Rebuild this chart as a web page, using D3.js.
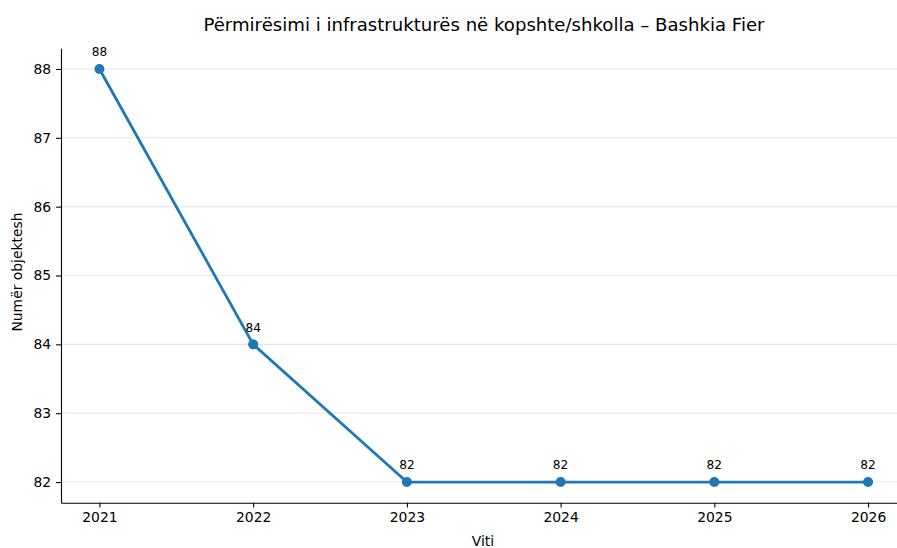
<!DOCTYPE html>
<html>
<head>
<meta charset="utf-8">
<script src="https://cdn.jsdelivr.net/npm/d3@7"></script>
<style>
  body { margin: 0; background: #fff; }
  svg { display: block; font-family: "DejaVu Sans", sans-serif; }
  .tick text { font-family: "DejaVu Sans", sans-serif; font-size: 13.9px; fill: #000; }
  .tick line { stroke: #000; stroke-width: 1.1; }
  .domain { stroke: #000; stroke-width: 1.1; }
</style>
</head>
<body>
<div id="chart"></div>
<script>
// data
var years = [2021, 2022, 2023, 2024, 2025, 2026];
var counts = [88, 84, 82, 82, 82, 82];
var yTicks = [82, 83, 84, 85, 86, 87, 88];

var svgWidth = 897;
var svgHeight = 548;

// plot area (right side is cut off in the reference image)
var plotLeft = 61, plotRight = 906.5, plotTop = 48.3, plotBottom = 502.7;

var svg = d3.select("#chart").append("svg")
    .attr("width", svgWidth)
    .attr("height", svgHeight);

var x = d3.scaleLinear().domain([2020.75, 2026.25]).range([plotLeft, plotRight]);
var y = d3.scaleLinear().domain([81.7, 88.3]).range([plotBottom, plotTop]);

// grid
svg.append("g").selectAll("line")
    .data(yTicks)
    .enter()
    .append("line")
    .attr("x1", plotLeft)
    .attr("x2", plotRight)
    .attr("y1", d => y(d))
    .attr("y2", d => y(d))
    .attr("stroke", "#b0b0b0")
    .attr("stroke-opacity", 0.3)
    .attr("stroke-width", 1.1);

// axes
var xAxis = svg.append("g")
    .attr("transform", `translate(0,${plotBottom})`)
    .call(d3.axisBottom(x).tickValues(years).tickFormat(d3.format("d")).tickSize(4.9).tickPadding(4.9).tickSizeOuter(0));

var yAxis = svg.append("g")
    .attr("transform", `translate(${plotLeft},0)`)
    .call(d3.axisLeft(y).tickValues(yTicks).tickFormat(d3.format("d")).tickSize(4.9).tickPadding(4.9).tickSizeOuter(0));

// line
var line = d3.line()
    .x((d, i) => x(years[i]))
    .y(d => y(d));

svg.append("path")
    .datum(counts)
    .attr("d", line)
    .attr("fill", "none")
    .attr("stroke", "#1f77b4")
    .attr("stroke-width", 2.8)
    .attr("stroke-linejoin", "round");

svg.append("g").selectAll("circle")
    .data(counts)
    .enter()
    .append("circle")
    .attr("cx", (d, i) => x(years[i]))
    .attr("cy", d => y(d))
    .attr("r", 5)
    .attr("fill", "#1f77b4");

// value labels
svg.append("g").selectAll("text")
    .data(counts)
    .enter()
    .append("text")
    .attr("x", (d, i) => x(years[i]))
    .attr("y", d => y(d) - 12.6)
    .attr("text-anchor", "middle")
    .attr("font-size", "12.2px")
    .attr("fill", "#000")
    .text(d => d);

// title and labels
svg.append("text")
    .attr("x", 484)
    .attr("y", 31)
    .attr("text-anchor", "middle")
    .attr("font-size", "18.1px")
    .text("Përmirësimi i infrastrukturës në kopshte/shkolla – Bashkia Fier");

svg.append("text")
    .attr("x", 483)
    .attr("y", 546)
    .attr("text-anchor", "middle")
    .attr("font-size", "13.9px")
    .text("Viti");

svg.append("text")
    .attr("transform", "translate(22,272) rotate(-90)")
    .attr("text-anchor", "middle")
    .attr("font-size", "13.9px")
    .text("Numër objektesh");
</script>
</body>
</html>
